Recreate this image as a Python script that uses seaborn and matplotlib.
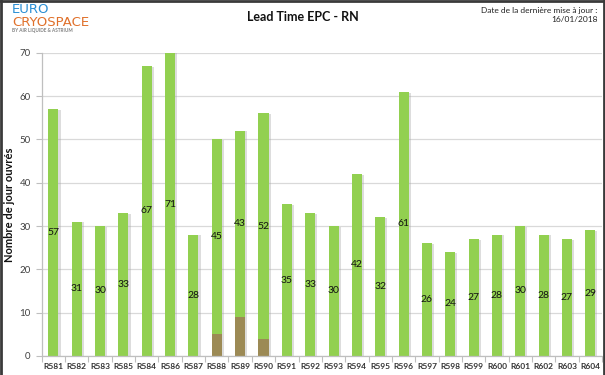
import matplotlib
matplotlib.use("Agg")
import matplotlib.pyplot as plt
import matplotlib.patheffects as pe
from matplotlib.lines import Line2D
from matplotlib.ticker import FixedLocator
import seaborn as sns
import pandas as pd
import numpy as np

categories = ["R581", "R582", "R583", "R585", "R584", "R586", "R587", "R588",
              "R589", "R590", "R591", "R592", "R593", "R594", "R595", "R596",
              "R597", "R598", "R599", "R600", "R601", "R602", "R603", "R604"]
green_vals = [57, 31, 30, 33, 67, 71, 28, 45, 43, 52, 35, 33, 30, 42, 32, 61,
              26, 24, 27, 28, 30, 28, 27, 29]
brown_vals = [0, 0, 0, 0, 0, 0, 0, 5, 9, 4, 0, 0, 0, 0, 0, 0,
              0, 0, 0, 0, 0, 0, 0, 0]
yticks = [0, 10, 20, 30, 40, 50, 60, 70]

GREEN = "#92D050"
BROWN = "#9C8A55"
FONT = ["Lato", "DejaVu Sans"]

sns.set_theme(style="white")
plt.rcParams["font.family"] = FONT

df = pd.DataFrame({"cat": categories, "green": green_vals, "brown": brown_vals})
df["total"] = df["green"] + df["brown"]

fig = plt.figure(figsize=(6.05, 3.75), dpi=100)
ax = fig.add_axes([0.069, 0.051, 0.926, 0.808])

shadow = [pe.SimplePatchShadow(offset=(1.5, -0.5), shadow_rgbFace="#A0A0A0", alpha=0.35), pe.Normal()]

sns.barplot(data=df, x="cat", y="total", color=GREEN, saturation=1, width=0.43,
            linewidth=0, ax=ax)
for p in ax.patches:
    p.set_path_effects(shadow)
sns.barplot(data=df, x="cat", y="brown", color=BROWN, saturation=1, width=0.43,
            linewidth=0, ax=ax)

ax.set_ylim(0, 70)
ax.set_xlim(-0.5, len(categories) - 0.5)
ax.set_yticks(yticks)
ax.yaxis.grid(True, color="#D9D9D9", lw=0.9)
ax.set_axisbelow(True)

for i, (g, b) in enumerate(zip(df["green"], df["brown"])):
    top = min(g + b, 70)
    ax.text(i, (b + top) / 2, str(g), ha="center", va="center", fontsize=7.5,
            color="#111111", family=FONT)

for s in ["top", "right"]:
    ax.spines[s].set_visible(False)
for s in ["left", "bottom"]:
    ax.spines[s].set_color("#BFBFBF")
    ax.spines[s].set_linewidth(0.9)

ax.tick_params(axis="x", which="major", length=0, labelsize=6, labelcolor="#333333", pad=5)
ax.xaxis.set_minor_locator(FixedLocator(np.arange(-0.5, len(categories), 1.0)))
ax.tick_params(axis="x", which="minor", length=4, color="#BFBFBF", width=0.8, bottom=True)
ax.tick_params(axis="y", which="major", length=4, color="#BFBFBF", width=0.8, left=True,
               labelsize=7, labelcolor="#404040", pad=4)
for lab in ax.get_xticklabels():
    lab.set_fontweight("bold")

ax.set_xlabel("")
ax.set_ylabel("Nombre de jour ouvrés", fontsize=8, fontweight="bold", color="#111111")
ax.yaxis.set_label_coords(-0.047, 0.5)

fig.text(0.5, 0.955, "Lead Time EPC - RN", ha="center", va="center", fontsize=9,
         fontweight="bold", color="#111111")
fig.text(0.988, 0.98, "Date de la dernière mise à jour :\n16/01/2018", ha="right", va="top",
         fontsize=6, color="#222222", linespacing=1.3)

fig.text(0.02, 0.966, "EURO", ha="left", va="baseline", fontsize=9.5, color="#2A8FD4",
         family=["DejaVu Sans"])
fig.text(0.02, 0.931, "CRYOSPACE", ha="left", va="baseline", fontsize=9.5, color="#E0702A",
         family=["DejaVu Sans"])
fig.text(0.02, 0.914, "BY AIR LIQUIDE & ASTRIUM", ha="left", va="baseline", fontsize=3.3,
         color="#7F7F7F", fontweight="bold")

for xs, ys in [([0.0015, 0.0015], [0, 1]), ([0, 1], [0.9985, 0.9985]), ([0.9985, 0.9985], [0, 1])]:
    fig.add_artist(Line2D(xs, ys, transform=fig.transFigure, color="#3A3A3A", lw=2))

fig.savefig("out.png", dpi=100)
